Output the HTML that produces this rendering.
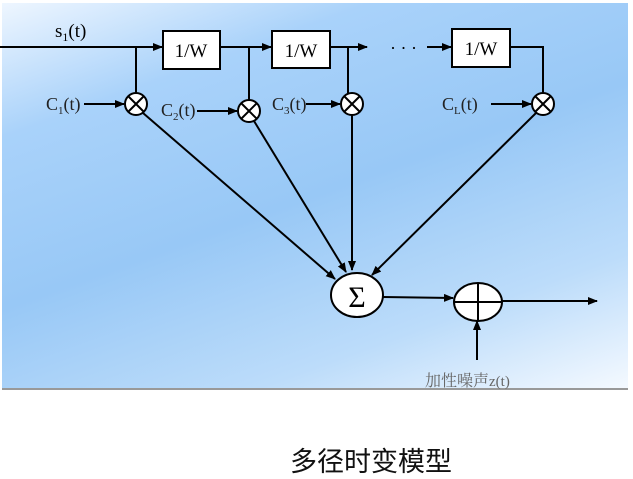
<!DOCTYPE html>
<html><head><meta charset="utf-8"><style>
body{margin:0;width:633px;height:479px;background:#fff;overflow:hidden;font-family:"Liberation Serif","Noto Serif CJK SC",serif}
.bg{position:absolute;left:2px;top:3px;width:626px;height:385px;background:linear-gradient(160deg,#eef6ff 0%,#a9d2fa 22%,#98c8f6 50%,#bcdcfa 78%,#f4f9ff 100%);border-bottom:2px solid #999}
svg{position:absolute;left:0;top:0}
.cap{position:absolute;left:290px;top:440px;font-size:27px;font-family:"Liberation Sans","Noto Sans CJK SC",sans-serif;color:#111}
</style></head><body>
<div class="bg"></div>
<svg width="633" height="479" viewBox="0 0 633 479">
<defs><marker id="a" markerWidth="10" markerHeight="8" refX="9" refY="4" orient="auto" markerUnits="userSpaceOnUse"><path d="M0,0L10,4L0,8z" fill="#000"/></marker></defs>
<g stroke="#000" stroke-width="2" fill="none">
<line x1="0" y1="47" x2="162" y2="47" marker-end="url(#a)"/>
<line x1="220" y1="47" x2="271" y2="47" marker-end="url(#a)"/>
<line x1="330" y1="47" x2="367" y2="47" marker-end="url(#a)"/>
<line x1="427" y1="47" x2="451" y2="47" marker-end="url(#a)"/>
<polyline points="510,47 543,47 543,93"/>
<line x1="136" y1="47" x2="136" y2="93"/>
<line x1="249" y1="47" x2="249" y2="100"/>
<line x1="348" y1="47" x2="348" y2="93"/>
<line x1="84" y1="104" x2="124" y2="104" marker-end="url(#a)"/>
<line x1="197" y1="111" x2="237" y2="111" marker-end="url(#a)"/>
<line x1="306" y1="104" x2="340" y2="104" marker-end="url(#a)"/>
<line x1="491" y1="104" x2="531" y2="104" marker-end="url(#a)"/>
<line x1="143" y1="113" x2="335" y2="279" marker-end="url(#a)"/>
<line x1="254" y1="121" x2="346" y2="272" marker-end="url(#a)"/>
<line x1="352" y1="115" x2="352" y2="270" marker-end="url(#a)"/>
<line x1="536" y1="113" x2="372" y2="275" marker-end="url(#a)"/>
<line x1="383" y1="297" x2="453" y2="298" marker-end="url(#a)"/>
<line x1="502" y1="301" x2="597" y2="301" marker-end="url(#a)"/>
<line x1="477" y1="360" x2="477" y2="321" marker-end="url(#a)"/>
</g>
<g stroke="#000" stroke-width="2" fill="#fff">
<rect x="163" y="31" width="57" height="38"/>
<rect x="272" y="31" width="58" height="37"/>
<rect x="452" y="29" width="58" height="38"/>
<ellipse cx="357" cy="295" rx="26" ry="22"/>
<ellipse cx="478" cy="302" rx="24" ry="19"/>
<circle cx="136" cy="104" r="11"/><circle cx="249" cy="111" r="11"/><circle cx="352" cy="104" r="11"/><circle cx="543" cy="104" r="11"/>
</g>
<g stroke="#000" stroke-width="2">
<path d="M128,96L144,112M144,96L128,112M241,103L257,119M257,103L241,119M344,96L360,112M360,96L344,112M535,96L551,112M551,96L535,112"/>
<path d="M454,302H502M478,283V321"/>
</g>
<g font-size="19" fill="#000">
<text x="191" y="57" text-anchor="middle">1/W</text>
<text x="301" y="57" text-anchor="middle">1/W</text>
<text x="481" y="55" text-anchor="middle">1/W</text>
<text x="390" y="54" font-size="18">· · ·</text>
<text x="55" y="37" font-size="19">s<tspan font-size="12" dy="4">1</tspan><tspan dy="-4">(t)</tspan></text>
<text x="357" y="307" text-anchor="middle" font-size="30">Σ</text>
</g>
<g font-size="18" fill="#222">
<text x="46" y="110">C<tspan font-size="11" dy="4">1</tspan><tspan dy="-4">(t)</tspan></text>
<text x="161" y="116">C<tspan font-size="11" dy="4">2</tspan><tspan dy="-4">(t)</tspan></text>
<text x="272" y="110">C<tspan font-size="11" dy="4">3</tspan><tspan dy="-4">(t)</tspan></text>
<text x="442" y="110">C<tspan font-size="11" dy="4">L</tspan><tspan dy="-4">(t)</tspan></text>
<text x="425" y="386" font-size="16" fill="#666">加性噪声<tspan font-size="15">z(t)</tspan></text>
</g>
</svg>
<div class="cap">多径时变模型</div>
</body></html>
